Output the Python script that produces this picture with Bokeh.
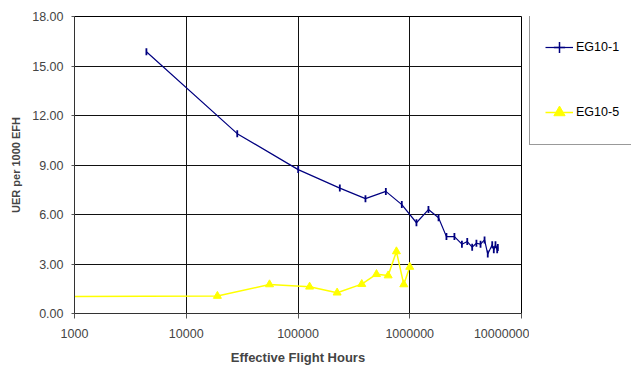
from bokeh.plotting import figure
from bokeh.layouts import row
from bokeh.models import Range1d, FixedTicker, PrintfTickFormatter, NumeralTickFormatter, Legend, LegendItem
from bokeh.embed import file_html
from bokeh.resources import INLINE
import math

# Data
eg10_1_hours = [4400, 28600, 100400, 236700, 401500, 611000, 849000, 1148000, 1470000,
                1810000, 2130000, 2510000, 2930000, 3270000, 3620000, 3950000, 4300000,
                4670000, 4990000, 5470000, 5650000, 5850000, 6060000, 6140000]
eg10_1_uer = [15.86, 10.9, 8.72, 7.6, 6.96, 7.4, 6.6, 5.5, 6.3,
              5.8, 4.66, 4.66, 4.2, 4.36, 4.02, 4.26, 4.2,
              4.46, 3.6, 4.16, 3.86, 4.16, 3.86, 4.0]

eg10_5_hours = [500, 19000, 55600, 127000, 224000, 372000, 504000, 641000, 760000, 884000, 1000000]
eg10_5_uer = [1.02, 1.06, 1.76, 1.62, 1.26, 1.78, 2.38, 2.3, 3.76, 1.76, 2.82]

series_names = ["EG10-1", "EG10-5"]
x_ticks = [1000, 10000, 100000, 1000000, 10000000]
y_ticks = [0, 3, 6, 9, 12, 15, 18]

FONT = "Liberation Sans"
navy = "#000080"
yellow = "#FFFF00"

p = figure(width=529, height=367, x_axis_type="log",
           x_range=Range1d(1000, 10000000), y_range=Range1d(0, 18),
           output_backend="svg", toolbar_location=None,
           min_border_left=74, min_border_right=8, min_border_top=16, min_border_bottom=51)
p.background_fill_color = "white"
p.border_fill_color = "white"
p.outline_line_color = "black"
p.outline_line_width = 1

# Grid
p.xgrid.ticker = FixedTicker(ticks=x_ticks)
p.ygrid.ticker = FixedTicker(ticks=y_ticks)
for g in (p.xgrid[0], p.ygrid[0]):
    g.grid_line_color = "#111111"
    g.grid_line_width = 1
    g.grid_line_alpha = 1.0

# Axes
xa = p.xaxis[0]
xa.ticker = FixedTicker(ticks=x_ticks, minor_ticks=[])
xa.formatter = NumeralTickFormatter(format="0")
xa.axis_label = "Effective Flight Hours"
xa.axis_label_text_font = FONT
xa.axis_label_text_font_style = "bold"
xa.axis_label_text_font_size = "13px"
xa.axis_label_standoff = 9
xa.major_label_text_font = FONT
xa.major_label_text_font_size = "12.5px"
xa.major_label_standoff = 10
xa.major_tick_out = 5
xa.major_tick_in = 0
xa.minor_tick_out = 0
xa.minor_tick_in = 0
xa.axis_line_color = "#333333"
xa.major_tick_line_color = "#555555"

ya = p.yaxis[0]
ya.ticker = FixedTicker(ticks=y_ticks, minor_ticks=[])
ya.formatter = PrintfTickFormatter(format="%.2f")
ya.axis_label = "UER per 1000 EFH"
ya.axis_label_text_font = FONT
ya.axis_label_text_font_style = "bold"
ya.axis_label_text_font_size = "11px"
ya.axis_label_standoff = 7
ya.major_label_text_font = FONT
ya.major_label_text_font_size = "12.5px"
ya.major_label_standoff = 8
ya.major_tick_out = 3
ya.major_tick_in = 0
ya.minor_tick_out = 0
ya.minor_tick_in = 0
ya.axis_line_color = "#333333"
ya.major_tick_line_color = "#555555"

p.line(eg10_1_hours, eg10_1_uer, line_color=navy, line_width=1.2)
p.scatter(eg10_1_hours, eg10_1_uer, marker="dash", angle=math.pi / 2, size=7,
          line_color=navy, line_width=1.8)

p.line(eg10_5_hours, eg10_5_uer, line_color=yellow, line_width=1.5)
p.scatter(eg10_5_hours[1:], eg10_5_uer[1:], marker="triangle", size=8,
          fill_color=yellow, line_color=yellow)

# Legend panel (separate figure on the right so the legend box is not clipped by the frame)
p2 = figure(width=102, height=367, x_range=Range1d(0, 1), y_range=Range1d(0, 1),
            output_backend="svg", toolbar_location=None,
            x_axis_location=None, y_axis_location=None,
            min_border_left=0, min_border_right=0, min_border_top=0, min_border_bottom=0)
p2.outline_line_color = None
p2.xgrid.visible = False
p2.ygrid.visible = False
p2.background_fill_color = "white"
p2.border_fill_color = "white"

# proxy renderers for the legend (placed outside the visible range)
off = [5, 6]
dl1 = p2.line(x=off, y=off, line_color=navy, line_width=1.2)
ds1 = p2.scatter(x=off, y=off, marker="cross", size=8, line_color=navy, line_width=1.5)
dl2 = p2.line(x=off, y=off, line_color=yellow, line_width=1.5)
ds2 = p2.scatter(x=off, y=off, marker="triangle", size=8, fill_color=yellow, line_color=yellow)

legend = Legend(items=[LegendItem(label=series_names[0], renderers=[dl1, ds1]),
                       LegendItem(label=series_names[1], renderers=[dl2, ds2])],
                location=(0, 168), orientation="vertical")
legend.label_text_font = FONT
legend.label_text_font_size = "12.5px"
legend.label_text_color = "black"
legend.glyph_width = 28
legend.glyph_height = 34
legend.label_height = 34
legend.label_width = 60
legend.label_standoff = 3
legend.spacing = 31
legend.padding = 15
legend.margin = 0
legend.border_line_color = "#333333"
legend.border_line_width = 1
legend.background_fill_color = "white"
legend.background_fill_alpha = 1.0
p2.add_layout(legend)

layout = row(p, p2)
open("out.html", "w").write(file_html(layout, INLINE))
